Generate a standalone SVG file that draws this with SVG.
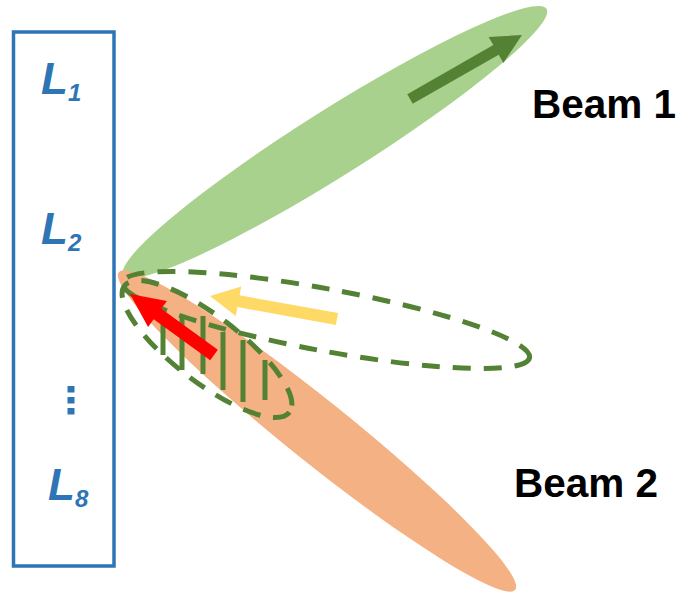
<svg xmlns="http://www.w3.org/2000/svg" width="679" height="592" viewBox="0 0 679 592">
<style>
.lbl{font-family:"Liberation Sans",Arial,sans-serif;font-weight:bold;font-style:italic;fill:#2E75B6}
.beam{font-family:"Liberation Sans",Arial,sans-serif;font-weight:bold;fill:#000;font-size:40.5px}
.dash{fill:none;stroke:#548235;stroke-width:5;stroke-dasharray:18 13}
.hatch{stroke:#548235;stroke-width:5;fill:none}
</style>
<rect width="679" height="592" fill="#fff"/>
<g id="array">
<rect x="13.5" y="32" width="100.5" height="534" fill="none" stroke="#2E75B6" stroke-width="3.5"/>
<text class="lbl" x="41" y="94" font-size="44">L<tspan font-size="24" dy="7">1</tspan></text>
<text class="lbl" x="41" y="244" font-size="44">L<tspan font-size="24" dy="7">2</tspan></text>
<rect x="67.5" y="386" width="7" height="6.5" fill="#2E75B6"/>
<rect x="67.5" y="397" width="7" height="6.5" fill="#2E75B6"/>
<rect x="67.5" y="408" width="7" height="6.5" fill="#2E75B6"/>
<text class="lbl" x="48" y="500" font-size="44">L<tspan font-size="24" dy="7">8</tspan></text>
</g>
<g id="beam1">
<ellipse cx="335" cy="142" rx="250" ry="33" transform="rotate(-32.2 335 142)" fill="#A9D18E"/>
<polygon points="522,35 503.4,62.9 498.7,54.7 412.7,103.8 407.3,94.2 493.3,45.1 488.6,36.9" fill="#548235"/>
<text class="beam" x="532" y="118">Beam 1</text>
</g>
<g id="beam2">
<ellipse cx="317" cy="431" rx="254" ry="31" transform="rotate(38.7 317 431)" fill="#F4B183"/>
<text class="beam" x="514" y="497">Beam 2</text>
</g>
<g id="candidate">
<ellipse class="dash" cx="326" cy="320" rx="207" ry="31" transform="rotate(10.5 326 320)"/>
<ellipse class="dash" cx="207" cy="349" rx="104" ry="33" transform="rotate(37.5 207 349)"/>
<path class="hatch" d="M163 322V355M182 315V370M203 316V374M223 332V390M243 340V402M265 360V400"/>
</g>
<g id="connectors">
<polygon points="210,296 241.2,286.4 239.6,295.3 338.1,313.1 335.9,324.9 237.4,307.1 235.8,316 " fill="#FFD966"/>
<polygon points="130,294 166.9,301.1 161.3,308.7 217.8,349.7 210.2,360.3 153.7,319.3 148.1,326.9" fill="#FF0000"/>
</g>
</svg>
